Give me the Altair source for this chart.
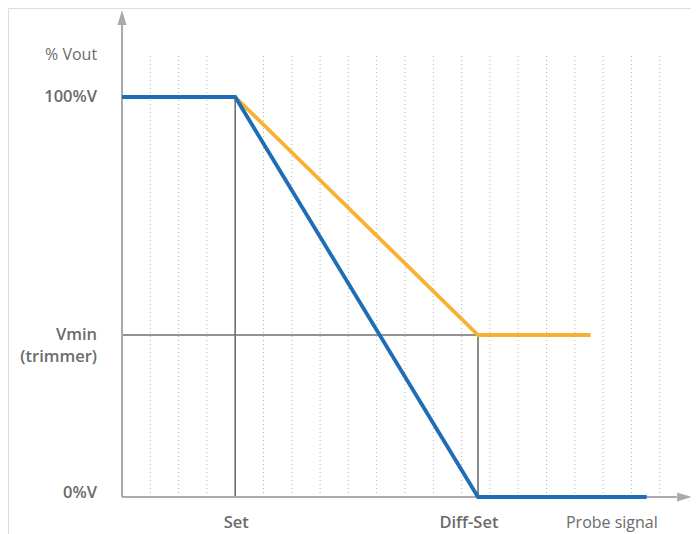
import altair as alt
import pandas as pd

# ---- data (x in grid units, y in % of Vout) ----
blue_x = [0.0, 4.0, 12.58, 18.54]
blue_y = [100, 100, 0, 0]
orange_x = [4.0, 12.58, 16.56]
orange_y = [100, 40.5, 40.5]
grid_x = [1, 2, 3, 5, 6, 7, 8, 9, 10, 11, 12, 13, 14, 15, 16, 17, 18, 19]
set_x = 4.0
diffset_x = 12.58
vmin_y = 40.5
grid_top = 111

y_labels = ["% Vout", "100%V", "Vmin", "(trimmer)", "0%V"]
y_label_pos = [110.5, 100, 40.6, 35.0, 1.0]
y_label_weight = ["normal", "bold", "bold", "bold", "bold"]
x_labels = ["Set", "Diff-Set", "Probe signal"]
x_label_pos = [4.04, 12.26, 17.31]
x_label_weight = ["bold", "bold", "normal"]

H = 526
xs = alt.Scale(domain=[-4.028, 20.106], nice=False, zero=False)
ys = alt.Scale(domain=[(489 - H) / 4, 122.25], nice=False, zero=False)
FONT = "Open Sans"
TXT = "#6b6b6b"

def X(f="x"):
    return alt.X(f + ":Q", scale=xs, axis=None)

def Y(f="y"):
    return alt.Y(f + ":Q", scale=ys, axis=None)

grid_df = pd.DataFrame({"x": grid_x, "y": [0] * len(grid_x), "y2": [grid_top] * len(grid_x)})
grid = alt.Chart(grid_df).mark_rule(color="#b5b5b5", strokeWidth=1, strokeDash=[1, 3]).encode(
    x=X(), y=Y(), y2="y2:Q")

ref_v = pd.DataFrame({"x": [set_x, diffset_x], "y": [0, 0], "y2": [100, vmin_y]})
refv = alt.Chart(ref_v).mark_rule(color="#6e6e6e", strokeWidth=1.6).encode(x=X(), y=Y(), y2="y2:Q")
ref_h = pd.DataFrame({"x": [0], "x2": [diffset_x], "y": [vmin_y]})
refh = alt.Chart(ref_h).mark_rule(color="#6e6e6e", strokeWidth=1.6).encode(x=X(), x2="x2:Q", y=Y())

axes_df = pd.DataFrame({"x": [0, 0], "x2": [0, 19.6], "y": [0, 0], "y2": [118, 0]})
axes = alt.Chart(axes_df).mark_rule(color="#aaaaaa", strokeWidth=2).encode(
    x=X(), x2="x2:Q", y=Y(), y2="y2:Q")

arrow_up = alt.Chart(pd.DataFrame({"x": [0], "y": [119.9]})).mark_point(
    shape="M0,-1L0.6,1L-0.6,1Z", size=225, filled=True, color="#aaaaaa", opacity=1).encode(x=X(), y=Y())
arrow_right = alt.Chart(pd.DataFrame({"x": [19.88], "y": [0]})).mark_point(
    shape="M1,0L-1,-0.6L-1,0.6Z", size=225, filled=True, color="#aaaaaa", opacity=1).encode(x=X(), y=Y())

lines_df = pd.concat([
    pd.DataFrame({"x": orange_x, "y": orange_y, "s": "orange", "o": range(len(orange_x))}),
    pd.DataFrame({"x": blue_x, "y": blue_y, "s": "blue", "o": range(len(blue_x))}),
])
lines = alt.Chart(lines_df).mark_line(strokeWidth=3.8, strokeJoin="miter").encode(
    x=X(), y=Y(), order="o:Q",
    detail="s:N",
    color=alt.Color("s:N", scale=alt.Scale(domain=["orange", "blue"], range=["#f8b133", "#1f6db5"]), legend=None),
)

ylab_df = pd.DataFrame({"t": y_labels, "y": y_label_pos, "w": y_label_weight, "x": [-0.88] * len(y_labels)})
ylab_n = alt.Chart(ylab_df[ylab_df.w == "normal"]).mark_text(
    align="right", baseline="middle", font=FONT, fontSize=16, color=TXT).encode(x=X(), y=Y(), text="t:N")
ylab_b = alt.Chart(ylab_df[ylab_df.w == "bold"]).mark_text(
    align="right", baseline="middle", font=FONT, fontSize=16.5, fontWeight=600, color=TXT).encode(x=X(), y=Y(), text="t:N")

xlab_df = pd.DataFrame({"t": x_labels, "x": x_label_pos, "w": x_label_weight, "y": [-6.5] * len(x_labels)})
xlab_n = alt.Chart(xlab_df[xlab_df.w == "normal"]).mark_text(
    align="center", baseline="middle", font=FONT, fontSize=16, color=TXT).encode(x=X(), y=Y(), text="t:N")
xlab_b = alt.Chart(xlab_df[xlab_df.w == "bold"]).mark_text(
    align="center", baseline="middle", font=FONT, fontSize=16.5, fontWeight=600, color=TXT).encode(x=X(), y=Y(), text="t:N")

chart = alt.layer(grid, refv, refh, axes, arrow_up, arrow_right, lines,
                  ylab_n, ylab_b, xlab_n, xlab_b).properties(
    width=683, height=H, padding=0, autosize=alt.AutoSizeParams(type="none")
).configure_view(stroke=None).configure(background="white")

chart.save("out.html", embed_options={"renderer": "svg", "actions": False})
